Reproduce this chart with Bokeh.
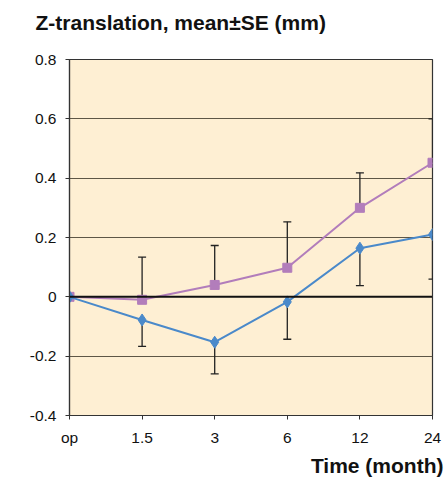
from bokeh.plotting import figure
from bokeh.models import Range1d, FixedTicker, Span, Title
from bokeh.embed import file_html
from bokeh.resources import INLINE

categories = ["op", "1.5", "3", "6", "12", "24"]
purple_mean = [0.0, -0.01, 0.04, 0.098, 0.30, 0.452]
purple_se = [0.0, 0.144, 0.133, 0.155, 0.118, 0.148]
blue_mean = [0.0, -0.078, -0.153, -0.017, 0.164, 0.21]
blue_se = [0.0, 0.089, 0.107, 0.126, 0.126, 0.15]
y_ticks = [-0.4, -0.2, 0.0, 0.2, 0.4, 0.6, 0.8]
y_tick_labels = ["-0.4", "-0.2", "0", "0.2", "0.4", "0.6", "0.8"]

x = list(range(len(categories)))

FONT = "Liberation Sans"
PURPLE = "#B27DBB"
BLUE = "#4A89CA"

p = figure(width=445, height=485, output_backend="svg", toolbar_location=None,
           x_range=Range1d(0, len(categories) - 1), y_range=Range1d(y_ticks[0], y_ticks[-1]),
           min_border_left=69, min_border_right=13, min_border_top=59, min_border_bottom=70)

p.background_fill_color = "#FEEFD3"
p.border_fill_color = "white"
p.outline_line_color = "#333333"
p.outline_line_width = 1.2

# axes
p.xaxis.ticker = FixedTicker(ticks=x)
p.xaxis.major_label_overrides = {i: c for i, c in zip(x, categories)}
p.yaxis.ticker = FixedTicker(ticks=y_ticks)
p.yaxis.major_label_overrides = {t: l for t, l in zip(y_ticks, y_tick_labels)}
for ax in (p.xaxis, p.yaxis):
    ax.axis_line_color = "#333333"
    ax.axis_line_width = 1.2
    ax.major_tick_line_color = "#333333"
    ax.major_tick_in = 0
    ax.major_tick_out = 4
    ax.minor_tick_line_color = None
    ax.major_label_text_font = FONT
    ax.major_label_text_font_size = "15.5px"
    ax.major_label_text_color = "#111111"
p.xaxis.major_label_standoff = 9
p.yaxis.major_label_standoff = 9

p.xgrid.grid_line_color = None
p.ygrid.grid_line_color = "#5e5646"
p.ygrid.grid_line_width = 1

zero = Span(location=0, dimension="width", line_color="#111111", line_width=2)
p.add_layout(zero)

# error bars (purple up, blue down)
p_up = [m + s for m, s in zip(purple_mean, purple_se)]
b_dn = [m - s for m, s in zip(blue_mean, blue_se)]
p.segment(x0=x[1:], y0=purple_mean[1:], x1=x[1:], y1=p_up[1:], line_color="#222222", line_width=1.3)
p.segment(x0=x[1:], y0=blue_mean[1:], x1=x[1:], y1=b_dn[1:], line_color="#222222", line_width=1.3)
p.scatter(x[1:], p_up[1:], marker="dash", size=8, line_color="#222222", line_width=1.3)
p.scatter(x[1:], b_dn[1:], marker="dash", size=8, line_color="#222222", line_width=1.3)

# series
p.line(x, purple_mean, line_color=PURPLE, line_width=2)
p.scatter(x, purple_mean, marker="square", size=9, fill_color=PURPLE, line_color=PURPLE)
p.line(x, blue_mean, line_color=BLUE, line_width=2)
p.scatter(x, blue_mean, marker="diamond", size=12, fill_color=BLUE, line_color=BLUE)

# titles
spacer = Title(text=" ", standoff=16, text_font_size="1px")
p.add_layout(spacer, "above")
t = Title(text="Z-translation, mean±SE (mm)", align="left", offset=-34, standoff=13,
          text_font=FONT, text_font_size="21px", text_font_style="bold", text_color="#111111")
p.add_layout(t, "above")
xl = Title(text="Time (month)", align="right", offset=-11, standoff=7,
           text_font=FONT, text_font_size="21px", text_font_style="bold", text_color="#111111")
p.add_layout(xl, "below")

open("out.html", "w").write(file_html(p, INLINE))
